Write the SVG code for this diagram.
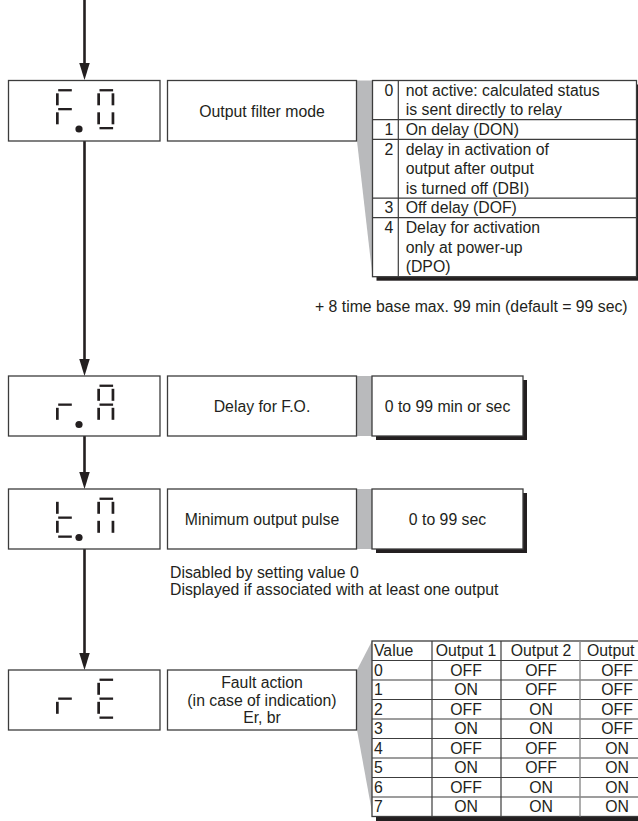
<svg xmlns="http://www.w3.org/2000/svg" xmlns:xlink="http://www.w3.org/1999/xlink" width="638" height="821" viewBox="0 0 638 821">
<style>
.bg{fill:#fff}
.box{fill:#fff;stroke:#3c3c3c;stroke-width:1.3}
.shadow{fill:#231f20}
.grey{fill:#b9babc}
.seg{fill:#231f20}
.t{font-family:"Liberation Sans",Arial,Helvetica,sans-serif;font-size:15.8px;fill:#231f20}
.c{text-anchor:middle}
.flow{stroke:#231f20;stroke-width:2.6;fill:none}
.tl{stroke:#3c3c3c;stroke-width:1.2;fill:none}
.tlg{stroke:#8a8a8a;stroke-width:1.4;fill:none}
</style>
<defs>
<marker id="ah" markerUnits="userSpaceOnUse" markerWidth="18" markerHeight="11" refX="7" refY="5.25" orient="auto">
<path d="M0,0 L17,5.25 L0,10.5 z" fill="#231f20"/>
</marker>
<rect id="sa" x="2.2" y="8.6" width="13.6" height="2.3"/>
<rect id="sb" x="14.3" y="12.8" width="2.7" height="12"/>
<rect id="sc" x="14.3" y="31.8" width="2.7" height="12"/>
<rect id="sd" x="2.2" y="46.5" width="13.6" height="2.3"/>
<rect id="se" x="0" y="31.8" width="2.7" height="12"/>
<rect id="sf" x="0" y="12.8" width="2.7" height="12"/>
<rect id="sg" x="2.2" y="27.5" width="13.6" height="2.3"/>
<circle id="sdp" cx="23" cy="48.5" r="3.6"/>
</defs>
<rect class="bg" x="0" y="0" width="638" height="821"/>

<g id="connectors">
<line class="flow" x1="84.5" y1="0" x2="84.5" y2="70" marker-end="url(#ah)"/>
<line class="flow" x1="84.5" y1="141" x2="84.5" y2="366" marker-end="url(#ah)"/>
<line class="flow" x1="84.5" y1="436" x2="84.5" y2="479" marker-end="url(#ah)"/>
<line class="flow" x1="84.5" y1="549" x2="84.5" y2="660" marker-end="url(#ah)"/>
<polygon class="grey" points="357,80.5 372,80.5 372,272 357,141"/>
<rect class="grey" x="357" y="376" width="15" height="60"/>
<rect class="grey" x="357" y="489" width="15" height="60"/>
<polygon class="grey" points="357,670 372,641 372,812 357,730"/>
</g>

<g id="display-fo">
<rect class="box" x="8.5" y="80.5" width="151.5" height="60.5"/>
<g class="seg" transform="translate(56,80.5)">
<use xlink:href="#sa"/><use xlink:href="#sf"/><use xlink:href="#sg"/><use xlink:href="#se"/><use xlink:href="#sdp"/>
</g>
<g class="seg" transform="translate(97.3,80.5)">
<use xlink:href="#sa"/><use xlink:href="#sb"/><use xlink:href="#sc"/><use xlink:href="#sd"/><use xlink:href="#se"/><use xlink:href="#sf"/>
</g>
</g>
<g id="label-fo">
<rect class="box" x="167.5" y="80.5" width="189" height="60.5"/>
<text class="t c" x="262" y="116.5">Output filter mode</text>
</g>
<g id="table-fo">
<rect class="shadow" x="376.5" y="84.5" width="265" height="196.2"/>
<rect class="box" x="372.5" y="80.5" width="264" height="196.2"/>
<path class="tl" d="M398.3,80.5 V276.7 M372.5,119.7 H636.5 M372.5,139.3 H636.5 M372.5,198.1 H636.5 M372.5,217.7 H636.5"/>
<g class="t c">
<text x="389" y="95.7">0</text>
<text x="389" y="134.9">1</text>
<text x="389" y="154.5">2</text>
<text x="389" y="213.3">3</text>
<text x="389" y="232.9">4</text>
</g>
<g class="t">
<text x="405.7" y="95.7">not active: calculated status</text>
<text x="405.7" y="115.3">is sent directly to relay</text>
<text x="405.7" y="134.9">On delay (DON)</text>
<text x="405.7" y="154.5">delay in activation of</text>
<text x="405.7" y="174.1">output after output</text>
<text x="405.7" y="193.7">is turned off (DBI)</text>
<text x="405.7" y="213.3">Off delay (DOF)</text>
<text x="405.7" y="232.9">Delay for activation</text>
<text x="405.7" y="252.5">only at power-up</text>
<text x="405.7" y="272.1">(DPO)</text>
</g>
</g>
<g id="note-timebase">
<text class="t" x="315" y="311.5">+ 8 time base max. 99 min (default = 99 sec)</text>
</g>

<g id="display-ra">
<rect class="box" x="8.5" y="376" width="151.5" height="60"/>
<g class="seg" transform="translate(56,376)">
<use xlink:href="#sg"/><use xlink:href="#se"/><use xlink:href="#sdp"/>
</g>
<g class="seg" transform="translate(97.3,376)">
<use xlink:href="#sa"/><use xlink:href="#sb"/><use xlink:href="#sc"/><use xlink:href="#se"/><use xlink:href="#sf"/><use xlink:href="#sg"/>
</g>
</g>
<g id="label-ra">
<rect class="box" x="167.5" y="376" width="189" height="60"/>
<text class="t c" x="262" y="411.5">Delay for F.O.</text>
</g>
<g id="value-ra">
<rect class="shadow" x="376" y="380" width="151" height="60"/>
<rect class="box" x="372" y="376" width="151" height="60"/>
<text class="t c" x="447.5" y="411.5">0 to 99 min or sec</text>
</g>

<g id="display-tn">
<rect class="box" x="8.5" y="489" width="151.5" height="60"/>
<g class="seg" transform="translate(56,489)">
<use xlink:href="#sf"/><use xlink:href="#sg"/><use xlink:href="#se"/><use xlink:href="#sd"/><use xlink:href="#sdp"/>
</g>
<g class="seg" transform="translate(97.3,489)">
<use xlink:href="#sa"/><use xlink:href="#sb"/><use xlink:href="#sc"/><use xlink:href="#se"/><use xlink:href="#sf"/>
</g>
</g>
<g id="label-tn">
<rect class="box" x="167.5" y="489" width="189" height="60"/>
<text class="t c" x="262" y="524.5">Minimum output pulse</text>
</g>
<g id="value-tn">
<rect class="shadow" x="376" y="493" width="151" height="60"/>
<rect class="box" x="372" y="489" width="151" height="60"/>
<text class="t c" x="447.5" y="524.5">0 to 99 sec</text>
</g>
<g id="note-tn">
<text class="t" x="170" y="578">Disabled by setting value 0</text>
<text class="t" x="170" y="595">Displayed if associated with at least one output</text>
</g>

<g id="display-re">
<rect class="box" x="8.5" y="670" width="151.5" height="60"/>
<g class="seg" transform="translate(56,670)">
<use xlink:href="#sg"/><use xlink:href="#se"/>
</g>
<g class="seg" transform="translate(97.3,670)">
<use xlink:href="#sa"/><use xlink:href="#sf"/><use xlink:href="#sg"/><use xlink:href="#se"/><use xlink:href="#sd"/>
</g>
</g>
<g id="label-re">
<rect class="box" x="167.5" y="670" width="189" height="60"/>
<text class="t c" x="262" y="688.3">Fault action</text>
<text class="t c" x="262" y="706">(in case of indication)</text>
<text class="t c" x="262" y="723.3">Er, br</text>
</g>
<g id="table-re">
<rect class="shadow" x="376" y="645" width="280" height="176"/>
<rect class="box" x="372" y="641" width="280" height="175.5"/>
<path class="tl" d="M432,641 V816.5 M501,641 V816.5 M372,660.5 H652 M372,680 H652 M372,699.5 H652 M372,719 H652 M372,738.5 H652 M372,758 H652 M372,777.5 H652 M372,797 H652"/>
<path class="tlg" d="M580,641 V816.5"/>
<g class="t">
<text x="374" y="656">Value</text>
<text x="374" y="675.5">0</text>
<text x="374" y="695">1</text>
<text x="374" y="714.5">2</text>
<text x="374" y="734">3</text>
<text x="374" y="753.5">4</text>
<text x="374" y="773">5</text>
<text x="374" y="792.5">6</text>
<text x="374" y="812">7</text>
<text x="587" y="656">Output</text>
</g>
<g class="t c">
<text x="466" y="656">Output 1</text>
<text x="541" y="656">Output 2</text>
<text x="466" y="675.5">OFF</text><text x="541" y="675.5">OFF</text><text x="617" y="675.5">OFF</text>
<text x="466" y="695">ON</text><text x="541" y="695">OFF</text><text x="617" y="695">OFF</text>
<text x="466" y="714.5">OFF</text><text x="541" y="714.5">ON</text><text x="617" y="714.5">OFF</text>
<text x="466" y="734">ON</text><text x="541" y="734">ON</text><text x="617" y="734">OFF</text>
<text x="466" y="753.5">OFF</text><text x="541" y="753.5">OFF</text><text x="617" y="753.5">ON</text>
<text x="466" y="773">ON</text><text x="541" y="773">OFF</text><text x="617" y="773">ON</text>
<text x="466" y="792.5">OFF</text><text x="541" y="792.5">ON</text><text x="617" y="792.5">ON</text>
<text x="466" y="812">ON</text><text x="541" y="812">ON</text><text x="617" y="812">ON</text>
</g>
</g>
</svg>
